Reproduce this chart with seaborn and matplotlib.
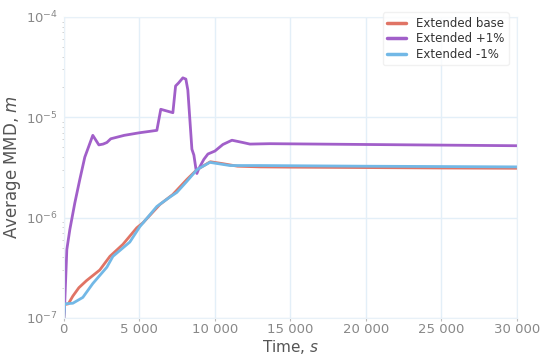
import matplotlib
matplotlib.use('Agg')
import matplotlib.pyplot as plt
import matplotlib.ticker as mticker
import pandas as pd
import seaborn as sns

# time (s) and average MMD (m)
t_base = [0, 60, 300, 600, 1000, 1500, 2380, 3050, 3910, 4830, 5250, 6360, 7220,
          8150, 8810, 9700, 10500, 11500, 13000, 15000, 20000, 25000, 30000]
mmd_base = [1.0e-7, 1.36e-7, 1.38e-7, 1.65e-7, 2.0e-7, 2.35e-7, 3.0e-7, 4.1e-7, 5.4e-7,
            7.9e-7, 8.9e-7, 1.35e-6, 1.7e-6, 2.4e-6, 3.0e-6, 3.6e-6, 3.45e-6, 3.25e-6,
            3.2e-6, 3.18e-6, 3.15e-6, 3.12e-6, 3.1e-6]

t_plus = [0, 60, 200, 400, 730, 1060, 1390, 1920, 2320, 2600, 2850, 3110, 4000, 5000,
          6160, 6420, 7220, 7400, 7600, 7880, 8080, 8210, 8480, 8610, 8740, 8810, 8950,
          9270, 9540, 10000, 10530, 11130, 11850, 12320, 13640, 20000, 30000]
mmd_plus = [1.0e-7, 1.38e-7, 4.8e-7, 7.6e-7, 1.4e-6, 2.4e-6, 4.0e-6, 6.6e-6, 5.3e-6,
            5.4e-6, 5.6e-6, 6.1e-6, 6.6e-6, 7.0e-6, 7.4e-6, 1.2e-5, 1.11e-5, 2.05e-5,
            2.2e-5, 2.47e-5, 2.4e-5, 1.87e-5, 4.8e-6, 4.2e-6, 3.1e-6, 2.75e-6, 3.1e-6,
            3.8e-6, 4.3e-6, 4.6e-6, 5.35e-6, 5.9e-6, 5.6e-6, 5.4e-6, 5.45e-6, 5.35e-6, 5.2e-6]

t_minus = [0, 60, 600, 1260, 1920, 2850, 3250, 4370, 5030, 6160, 7020, 7480, 8150,
           8810, 9670, 11000, 13000, 20000, 30000]
mmd_minus = [1.0e-7, 1.38e-7, 1.4e-7, 1.6e-7, 2.2e-7, 3.2e-7, 4.1e-7, 5.7e-7, 8.1e-7,
             1.29e-6, 1.6e-6, 1.78e-6, 2.3e-6, 3.0e-6, 3.55e-6, 3.3e-6, 3.3e-6, 3.25e-6, 3.2e-6]

labels = ['Extended base', 'Extended +1%', 'Extended -1%']
colors = ['#e07465', '#a15fc9', '#72b8e6']

df = pd.concat([
    pd.DataFrame({'time': t_base, 'mmd': mmd_base, 'case': labels[0]}),
    pd.DataFrame({'time': t_plus, 'mmd': mmd_plus, 'case': labels[1]}),
    pd.DataFrame({'time': t_minus, 'mmd': mmd_minus, 'case': labels[2]}),
])

sns.set_style('white')
fig = plt.figure(figsize=(5.5, 3.6), dpi=100)
ax = fig.add_axes([0.116, 0.117, 0.824, 0.836])
sns.lineplot(data=df, x='time', y='mmd', hue='case', palette=colors,
             sort=False, estimator=None, linewidth=2, ax=ax)

ax.set_yscale('log')
ax.set_xlim(0, 30000)
ax.set_ylim(1e-7, 1e-4)
ax.xaxis.set_major_locator(mticker.MultipleLocator(5000))
ax.xaxis.set_major_formatter(mticker.FuncFormatter(lambda v, p: f'{int(v):,}'.replace(',', ' ')))
ax.grid(True, which='major', color='#e3eff8', linewidth=1)
for s in ax.spines.values():
    s.set_color('#e8f1f8')
ax.tick_params(axis='both', which='major', labelsize=9.5, labelcolor='#888888',
               color='#bbbbbb', length=2, pad=2)
ax.tick_params(axis='y', which='minor', color='#cccccc', length=1.5, left=True)
ax.tick_params(axis='x', bottom=True)

ax.set_xlabel('Time, $s$', fontsize=11, color='#555555', labelpad=1)
ax.set_ylabel('Average MMD, $m$', fontsize=12, color='#555555', labelpad=2)

leg = ax.legend(loc='upper right', bbox_to_anchor=(0.995, 1.035), fontsize=8.5,
                frameon=True, handlelength=1.6, borderpad=0.4, labelspacing=0.2)
leg.get_frame().set_edgecolor('#eeeeee')
for line in leg.get_lines():
    line.set_linewidth(2.5)
for text in leg.get_texts():
    text.set_color('#333333')

fig.savefig('out.png', dpi=100)
